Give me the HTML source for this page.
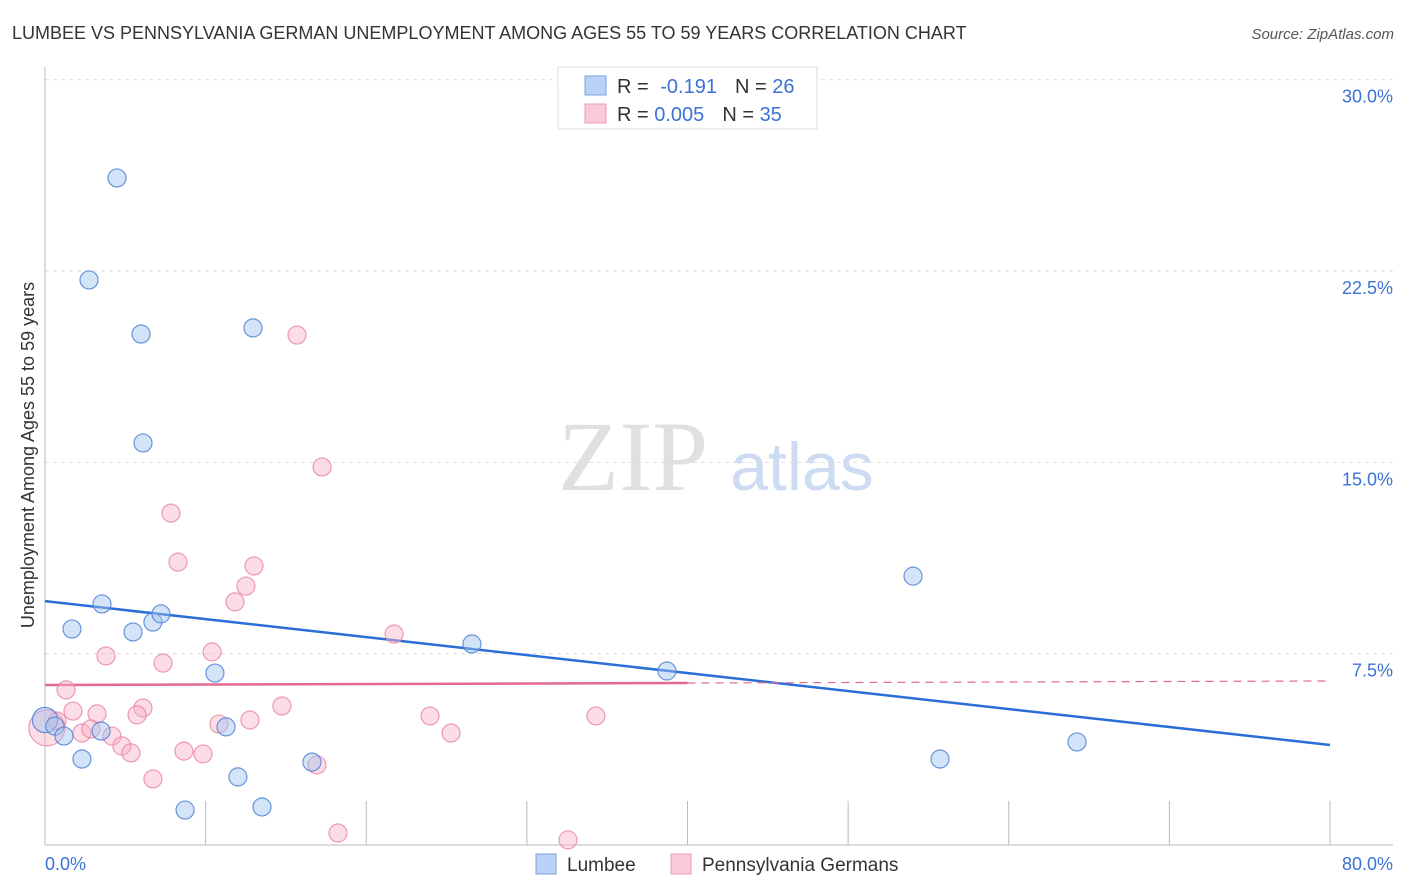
<!DOCTYPE html>
<html><head><meta charset="utf-8"><style>
body{margin:0;background:#fff;font-family:"Liberation Sans",sans-serif;}
svg{display:block}
</style></head><body>
<svg id="chart" width="1406" height="892">
<text x="12" y="39" font-size="18" fill="#333">LUMBEE VS PENNSYLVANIA GERMAN UNEMPLOYMENT AMONG AGES 55 TO 59 YEARS CORRELATION CHART</text>
<text x="1394" y="39" font-size="15" fill="#555" font-style="italic" text-anchor="end">Source: ZipAtlas.com</text>
<text x="633" y="490" font-size="100" fill="#e0e0e0" font-family="Liberation Serif,serif" text-anchor="middle">ZIP</text>
<text x="802" y="490" font-size="68" fill="#cddcf2" text-anchor="middle">atlas</text>
<g id="grid"></g><g id="axes"></g><g id="lines"></g><g id="pts"></g>
<text transform="translate(34,455) rotate(-90)" font-size="18" fill="#333" text-anchor="middle">Unemployment Among Ages 55 to 59 years</text>
<text x="45" y="870" font-size="18" fill="#3b72d6">0.0%</text>
<text x="1393" y="870" font-size="18" fill="#3b72d6" text-anchor="end">80.0%</text>
<g>
<rect x="558" y="67" width="259" height="62" fill="#fff" stroke="#ddd"/>
<rect x="585" y="76" width="21" height="19" fill="#b9d2f5" stroke="#7aa3e0"/>
<rect x="585" y="104" width="21" height="19" fill="#fbcad8" stroke="#ee9bb4"/>
<text x="617" y="93" font-size="20" fill="#333">R = <tspan fill="#3b72d6" dx="6">-0.191</tspan><tspan dx="18" fill="#333">N = </tspan><tspan fill="#3b72d6">26</tspan></text>
<text x="617" y="121" font-size="20" fill="#333">R = <tspan fill="#3b72d6">0.005</tspan><tspan dx="18" fill="#333">N = </tspan><tspan fill="#3b72d6">35</tspan></text>
</g>
<g>
<rect x="536" y="854" width="20" height="20" fill="#b9d2f5" stroke="#7aa3e0"/>
<text x="567" y="871" font-size="19" fill="#333">Lumbee</text>
<rect x="671" y="854" width="20" height="20" fill="#fbcad8" stroke="#ee9bb4"/>
<text x="702" y="871" font-size="19" fill="#333">Pennsylvania Germans</text>
</g>
</svg>
<script>
const yTicks=[7.5,15,22.5,30];
const yTickLabels=["7.5%","15.0%","22.5%","30.0%"];
const xTicks=[10,20,30,40,50,60,70,80];
const lumbeeX=[4.48,2.74,5.98,12.95,6.10,3.55,1.68,5.48,6.72,7.22,10.58,26.58,38.72,54.04,0,0.62,1.18,3.49,2.30,11.27,12.01,8.72,13.51,16.62,55.72,64.25];
const lumbeeY=[26.15,22.15,20.03,20.27,15.76,9.45,8.47,8.35,8.74,9.06,6.74,7.88,6.82,10.54,4.90,4.66,4.27,4.47,3.37,4.63,2.67,1.37,1.49,3.25,3.37,4.04];
const lumbeeSize=[1,1,1,1,1,1,1,1,1,1,1,1,1,1,1.4,1,1,1,1,1,1,1,1,1,1,1];
const paX=[15.69,17.25,7.84,8.28,13.01,12.51,11.83,21.73,3.80,7.35,10.40,1.31,14.75,1.74,3.24,6.10,5.73,12.76,10.83,0.12,0.75,2.30,2.86,4.17,4.79,5.35,8.65,9.84,6.72,16.93,23.97,25.28,34.30,18.24,32.56];
const paY=[19.99,14.82,13.01,11.09,10.94,10.15,9.53,8.27,7.41,7.13,7.57,6.08,5.45,5.25,5.14,5.37,5.10,4.90,4.74,4.59,4.86,4.39,4.55,4.27,3.88,3.61,3.68,3.57,2.59,3.14,5.06,4.39,5.06,0.47,0.20];
const paSize=[1,1,1,1,1,1,1,1,1,1,1,1,1,1,1,1,1,1,1,2,1,1,1,1,1,1,1,1,1,1,1,1,1,1,1];
const lumbeeTrend=[9.56,3.92];
const paTrend=[6.27,6.43];
const paSolidEnd=40;
const X=v=>45+v/80*1285;
const Y=v=>845-v*25.51;
const NS="http://www.w3.org/2000/svg";
function mk(parent,tag,attrs){const e=document.createElementNS(NS,tag);for(const k in attrs)e.setAttribute(k,attrs[k]);document.getElementById(parent).appendChild(e);return e;}
yTicks.forEach((t,i)=>{
 const l=mk('grid','line',{x1:45,x2:1393,y1:Y(t),y2:Y(t),stroke:'#ddd','stroke-dasharray':'4,4'});
 
 
 const tx=mk('grid','text',{x:1393,y:Y(t)+23,'font-size':18,fill:'#3b72d6','text-anchor':'end'});
 tx.textContent=yTickLabels[i];
 
 
});
const ya=mk('axes','line',{x1:45,x2:45,y1:67,y2:845,stroke:'#bbb'});


const xa=mk('axes','line',{x1:45,x2:1393,y1:845,y2:845,stroke:'#bbb'});


xTicks.forEach(t=>{
 const l=mk('axes','line',{x1:X(t),x2:X(t),y1:845,y2:801,stroke:'#bbb'});
 
 
});
function pts(xs,ys,sz,fill,stroke,name){
 xs.forEach((x,i)=>{
  const c=mk('pts','circle',{cx:X(x),cy:Y(ys[i]),r:9*sz[i],fill:fill,stroke:stroke,'stroke-width':1.2});
  
  
 });
}
pts(paX,paY,paSize,'rgba(248,180,200,0.45)','rgba(232,130,160,0.8)','pa-german-point');
pts(lumbeeX,lumbeeY,lumbeeSize,'rgba(160,195,240,0.45)','rgba(80,130,215,0.85)','lumbee-point');
const bl=mk('lines','line',{x1:X(0),y1:Y(lumbeeTrend[0]),x2:X(80),y2:Y(lumbeeTrend[1]),stroke:'#2a6ed8','stroke-width':2.5});


const pm=v=>paTrend[0]+(paTrend[1]-paTrend[0])*v/80;
const pl=mk('lines','line',{x1:X(0),y1:Y(pm(0)),x2:X(paSolidEnd),y2:Y(pm(paSolidEnd)),stroke:'#e6698f','stroke-width':2.5});


const pd=mk('lines','line',{x1:X(paSolidEnd),y1:Y(pm(paSolidEnd)),x2:X(80),y2:Y(pm(80)),stroke:'#e6698f','stroke-width':1.2,'stroke-dasharray':'8,6'});


</script>
</body></html>
